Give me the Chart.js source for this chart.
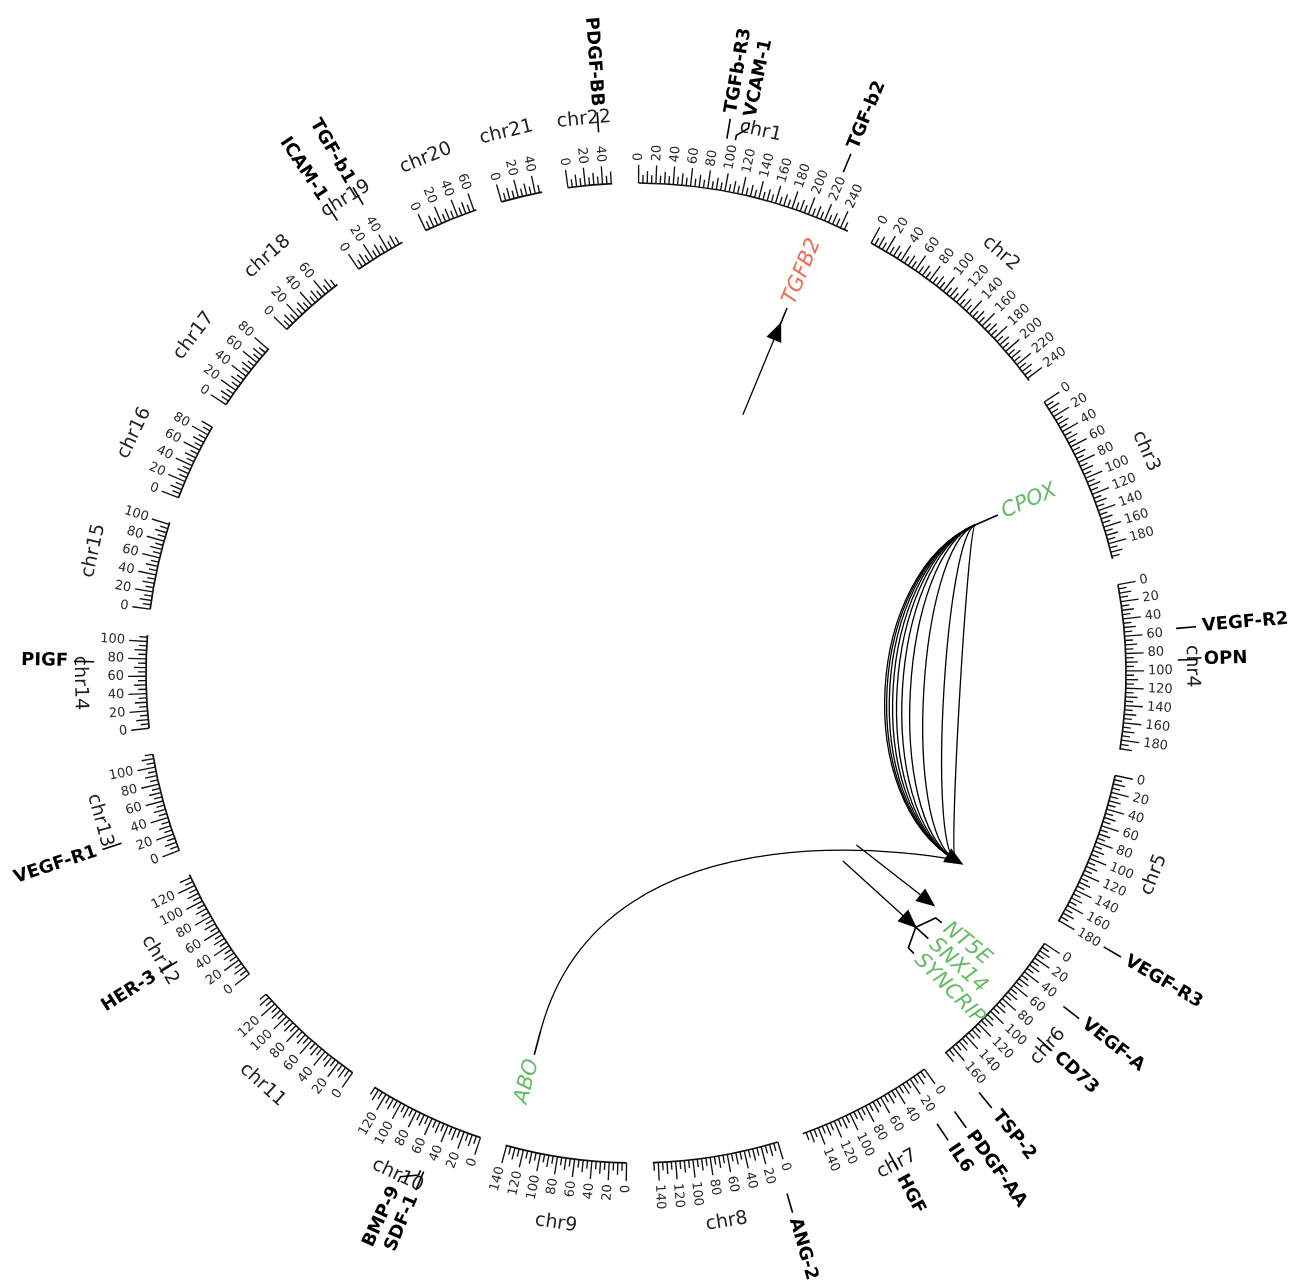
<!DOCTYPE html>
<html>
<head>
<meta charset="utf-8">
<script src="https://cdn.jsdelivr.net/npm/chart.js@4.4.1/dist/chart.umd.min.js"></script>
<style>
html,body{margin:0;padding:0;background:#ffffff;}
#wrap{width:1293px;height:1281px;position:relative;}
</style>
</head>
<body>
<div id="wrap"><canvas id="c"></canvas></div>
<script>
// ================= DATA =================
const chromNames = ['chr1','chr2','chr3','chr4','chr5','chr6','chr7','chr8','chr9','chr10','chr11',
  'chr12','chr13','chr14','chr15','chr16','chr17','chr18','chr19','chr20','chr21','chr22'];
const chromLengthsMb = [249.25,243.2,198.02,191.15,180.92,171.12,159.14,146.36,141.21,135.53,135.01,
  133.85,115.17,107.35,102.53,90.35,81.2,78.08,59.13,63.03,48.13,51.3];
const tickStepMb = 5;        // minor tick spacing
const tickMidStepMb = 10;    // medium tick spacing
const tickLabelStepMb = 20;  // labelled tick spacing

// outer (protein) labels
const outerLabels   = ['TGFb-R3','VCAM-1','TGF-b2','VEGF-R2','OPN','VEGF-R3','VEGF-A','CD73','TSP-2',
  'PDGF-AA','IL6','HGF','ANG-2','SDF-1','BMP-9','HER-3','VEGF-R1','PIGF','ICAM-1','TGF-b1','PDGF-BB'];
const outerLabelChrom = ['chr1','chr1','chr1','chr4','chr4','chr5','chr6','chr6','chr6',
  'chr7','chr7','chr7','chr8','chr10','chr10','chr12','chr13','chr14','chr19','chr19','chr22'];
const outerLabelMb  = [92.15,101.19,218.52,55.95,88.9,180.03,43.74,86.16,169.6,
  0.54,22.77,81.33,6.36,44.87,48.41,56.47,28.87,75.41,10.38,41.84,39.62];

// inner (variant gene) labels
const innerLabels     = ['TGFB2','CPOX','NT5E','SNX14','SYNCRIP','ABO'];
const innerLabelChrom = ['chr1','chr3','chr6','chr6','chr6','chr9'];
const innerLabelMb    = [218.52,98.3,86.16,86.2,86.3,136.13];
const innerLabelGroup = ['B','A','A','A','A','A'];

// links (variant -> protein)
const linkFromChrom = ['chr3','chr3','chr3','chr3','chr3','chr3','chr3','chr3','chr3','chr3','chr9','chr1','chr6','chr6'];
const linkFromMb    = [98.3,98.3,98.3,98.3,98.3,98.3,98.3,98.3,98.3,98.3,136.13,218.52,43.74,86.16];
const linkToChrom   = ['chr5','chr5','chr5','chr5','chr5','chr5','chr5','chr5','chr5','chr5','chr5','chr1','chr6','chr6'];
const linkToMb      = [180.03,180.03,180.03,180.03,180.03,180.03,180.03,180.03,180.03,180.03,180.03,218.52,43.74,86.16];

// ================= STYLE / LAYOUT =================
// radius reached by each curve's inward handle at its source / target end
const linkHandleFrom = [250,253,257,262,268,276,288,308,338,362,120,250,250,250];
const linkHandleTo   = [250,253,257,262,268,276,288,308,338,362,370,250,250,250];
const groupColors = {A:'#66bb66', B:'#f26a4f'};
const GAP_DEG = 3.07, START_DEG = 0.3;
const R_BASE = 490, T_MAJOR = 18, T_MID = 12, T_MINOR = 8, R_TICKLABEL = 512, R_CHRNAME = 556;
const R_OUT0 = 542, R_OUT1 = 562, R_OUTTEXT = 568;
const R_LINK = 370, R_IN1 = 395, R_INTEXT = 400;
const FONT = '"DejaVu Sans", "Liberation Sans", sans-serif';

const totalMb = chromLengthsMb.reduce((a,b)=>a+b,0);
const degPerMb = (360 - chromNames.length*GAP_DEG)/totalMb;
const chromStart = [];
{ let acc = START_DEG; chromLengthsMb.forEach((L,i)=>{ chromStart.push(acc); acc += L*degPerMb + GAP_DEG; }); }
function angleOf(chrom, mb){ return chromStart[chromNames.indexOf(chrom)] + mb*degPerMb; }
const D2R = Math.PI/180;
function norm(a){ return ((a%360)+360)%360; }

// label de-overlap: 'push' keeps first label, moves later ones; 'center' keeps groups centred
function spread(items, minSep, mode){
  const s = items.slice().sort((p,q)=>p.a-q.a);
  if(mode === 'push'){
    let last = -1e9;
    s.forEach(it=>{ it.t = Math.max(it.a, last + minSep); last = it.t; });
    return items;
  }
  let groups = s.map(it=>({m:[it]}));
  const place = g => { const c = g.m.reduce((x,it)=>x+it.a,0)/g.m.length; const st = c-(g.m.length-1)*minSep/2; g.m.forEach((it,k)=>it.t=st+k*minSep); };
  groups.forEach(place);
  let changed = true;
  while(changed){
    changed = false;
    for(let i=0;i<groups.length-1;i++){
      const g1=groups[i], g2=groups[i+1];
      if(g2.m[0].t - g1.m[g1.m.length-1].t < minSep - 1e-9){
        const g = {m:g1.m.concat(g2.m)}; place(g); groups.splice(i,2,g); changed=true; break;
      }
    }
  }
  return items;
}

const circosPlugin = {
  id:'circos',
  afterDraw(chart){
    const ctx = chart.ctx, xs = chart.scales.x, ys = chart.scales.y;
    const P = (r, th) => ({x: xs.getPixelForValue(r*Math.sin(th*D2R)), y: ys.getPixelForValue(r*Math.cos(th*D2R))});
    const cx = xs.getPixelForValue(0), cy = ys.getPixelForValue(0);
    const pr = r => xs.getPixelForValue(r) - cx;

    function radialText(text, r, th, font, color){
      const p = P(r, th), t = norm(th);
      ctx.save(); ctx.translate(p.x, p.y);
      if(t < 180){ ctx.rotate((t-90)*D2R); ctx.textAlign='left'; }
      else { ctx.rotate((t+90)*D2R); ctx.textAlign='right'; }
      ctx.textBaseline='middle'; ctx.font=font; ctx.fillStyle=color; ctx.fillText(text,0,0);
      ctx.restore();
    }
    function tangText(text, r, th, font, color){
      const p = P(r, th), t = norm(th);
      let rot = t; if(t>90 && t<270) rot = t-180;
      ctx.save(); ctx.translate(p.x,p.y); ctx.rotate(rot*D2R);
      ctx.textAlign='center'; ctx.textBaseline='middle'; ctx.font=font; ctx.fillStyle=color; ctx.fillText(text,0,0);
      ctx.restore();
    }
    function poly(pts){ ctx.beginPath(); ctx.moveTo(pts[0].x,pts[0].y); for(let i=1;i<pts.length;i++) ctx.lineTo(pts[i].x,pts[i].y); ctx.stroke(); }

    ctx.save();
    ctx.lineCap = 'butt';
    // ideogram axes
    chromNames.forEach((name,i)=>{
      const a0 = chromStart[i], L = chromLengthsMb[i], a1 = a0 + L*degPerMb;
      ctx.strokeStyle='#111'; ctx.lineWidth=1.7;
      ctx.beginPath(); ctx.arc(cx, cy, pr(R_BASE), (a0-90)*D2R, (a1-90)*D2R); ctx.stroke();
      ctx.lineWidth=1.35;
      for(let m=0; m<=L+1e-9; m+=tickStepMb){
        const th = a0 + m*degPerMb;
        const len = (m % tickLabelStepMb === 0) ? T_MAJOR : (m % tickMidStepMb === 0 ? T_MID : T_MINOR);
        poly([P(R_BASE, th), P(R_BASE+len, th)]);
        if(m % tickLabelStepMb === 0) radialText(String(m), R_TICKLABEL, th, '13px '+FONT, '#2a2a2a');
      }
      tangText(name, R_CHRNAME, a0 + L*degPerMb/2, '19px '+FONT, '#222');
    });

    // outer labels
    const outer = outerLabels.map((n,i)=>({n, a: angleOf(outerLabelChrom[i], outerLabelMb[i])}));
    spread(outer, 2.0, 'push');
    ctx.strokeStyle='#000'; ctx.lineWidth=1.6;
    outer.forEach(o=>{
      if(Math.abs(o.t-o.a) < 0.05) poly([P(R_OUT0,o.a), P(R_OUT1,o.a)]);
      else poly([P(R_OUT0,o.a), P(R_OUT0+5,o.a), P(R_OUT1-6,o.t), P(R_OUT1,o.t)]);
      radialText(o.n, R_OUTTEXT, o.t, 'bold 18px '+FONT, '#000');
    });

    // links: cubic curves whose handles run radially inward from each end
    ctx.strokeStyle='#000'; ctx.lineWidth=1.3; ctx.fillStyle='#000';
    const arrowDone = {};
    linkFromChrom.forEach((c,i)=>{
      const a1 = angleOf(c, linkFromMb[i]), a2 = angleOf(linkToChrom[i], linkToMb[i]);
      const p0 = P(R_LINK,a1), p3 = P(R_LINK,a2), c1 = P(linkHandleFrom[i],a1), c2 = P(linkHandleTo[i],a2);
      ctx.beginPath(); ctx.moveTo(p0.x,p0.y); ctx.bezierCurveTo(c1.x,c1.y,c2.x,c2.y,p3.x,p3.y); ctx.stroke();
      const key = linkToChrom[i]+':'+linkToMb[i];
      if(arrowDone[key]) return; arrowDone[key] = true;
      let ref = c2; if(Math.hypot(p3.x-c2.x,p3.y-c2.y) < 1) ref = c1;
      let dx = p3.x-ref.x, dy = p3.y-ref.y; const dn = Math.hypot(dx,dy); dx/=dn; dy/=dn;
      const Lh = 19, W = 8;
      const tip = {x:p3.x+dx*Lh/2, y:p3.y+dy*Lh/2}, b = {x:p3.x-dx*Lh/2, y:p3.y-dy*Lh/2};
      ctx.beginPath(); ctx.moveTo(tip.x,tip.y); ctx.lineTo(b.x-dy*W, b.y+dx*W); ctx.lineTo(b.x+dy*W, b.y-dx*W); ctx.closePath(); ctx.fill();
    });

    // inner labels
    const inner = innerLabels.map((n,i)=>({n, g: innerLabelGroup[i], a: angleOf(innerLabelChrom[i], innerLabelMb[i])}));
    spread(inner, 3.0, 'center');
    ctx.strokeStyle='#000'; ctx.lineWidth=1.6;
    inner.forEach(o=>{
      if(Math.abs(o.t-o.a) < 0.05) poly([P(R_LINK,o.a), P(R_IN1,o.a)]);
      else poly([P(R_LINK,o.a), P(R_LINK+8,o.a), P(R_IN1-8,o.t), P(R_IN1,o.t)]);
      radialText(o.n, R_INTEXT, o.t, 'italic 21px '+FONT, groupColors[o.g]);
    });
    ctx.restore();
  }
};

new Chart(document.getElementById('c').getContext('2d'), {
  type:'scatter',
  data:{datasets:[{data:[], pointRadius:0}]},
  options:{
    responsive:true, maintainAspectRatio:false, animation:false,
    layout:{padding:0},
    plugins:{legend:{display:false}, tooltip:{enabled:false}},
    scales:{
      x:{type:'linear', display:false, min:-636, max:657},
      y:{type:'linear', display:false, min:-608, max:673}
    }
  },
  plugins:[circosPlugin]
});
</script>
</body>
</html>
